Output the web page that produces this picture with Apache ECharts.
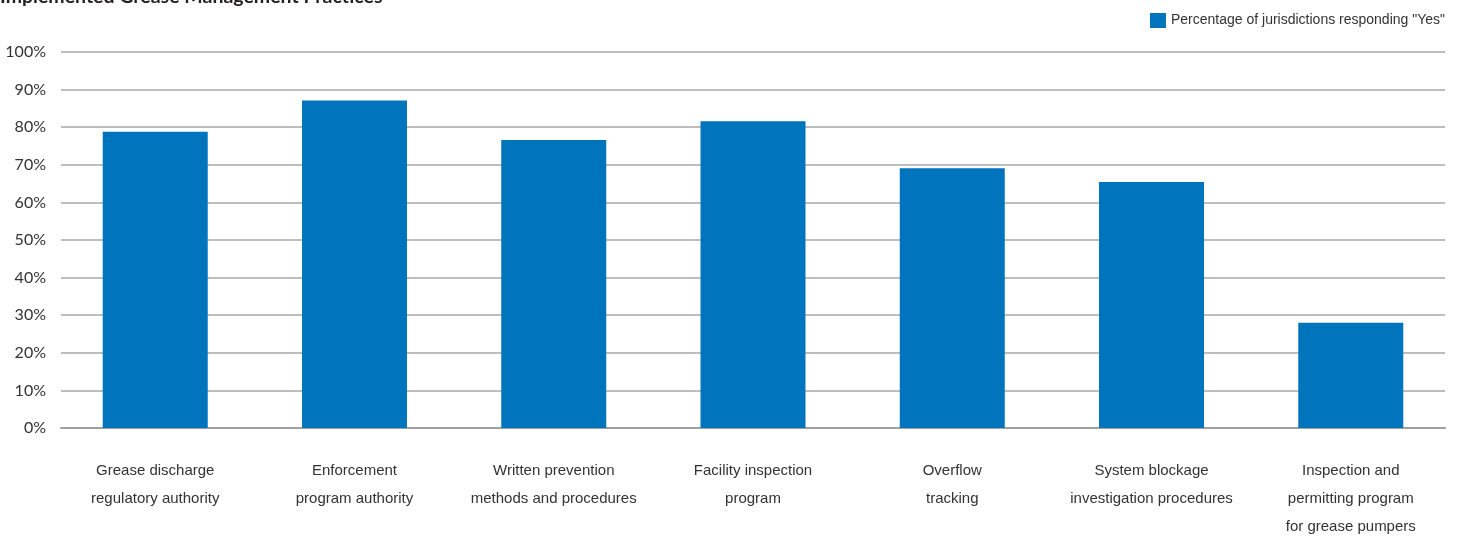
<!DOCTYPE html>
<html>
<head>
<meta charset="utf-8">
<script src="https://cdn.jsdelivr.net/npm/echarts@6/dist/echarts.min.js"></script>
<style>
  html, body { margin: 0; padding: 0; background: #fff; }
  #chart { width: 1460px; height: 540px; }
</style>
</head>
<body>
<div id="chart"></div>
<script>
// data
const categories = [
  'Grease discharge\nregulatory authority',
  'Enforcement\nprogram authority',
  'Written prevention\nmethods and procedures',
  'Facility inspection\nprogram',
  'Overflow\ntracking',
  'System blockage\ninvestigation procedures',
  'Inspection and\npermitting program\nfor grease pumpers'
];
const yesPercent = [78.8, 87.1, 76.6, 81.6, 69.1, 65.4, 28.0];
const seriesName = 'Percentage of jurisdictions responding "Yes"';
const titleText = 'Implemented Grease Management Practices';

const BLUE = '#0075BE';
const narrow = '"Liberation Sans Narrow", "Liberation Sans", sans-serif';

const chart = echarts.init(document.getElementById('chart'));

chart.setOption({
  animation: false,
  title: {
    text: titleText,
    left: 0,
    top: -13,
    padding: 0,
    textStyle: { fontFamily: 'Lato, sans-serif', fontSize: 19.5, fontWeight: 'bold', color: '#231f20' }
  },
  legend: {
    right: 15,
    top: 13,
    padding: 0,
    icon: 'rect',
    itemWidth: 16,
    itemHeight: 15,
    itemGap: 10,
    data: [seriesName],
    textStyle: { fontFamily: narrow, fontSize: 14, color: '#333' }
  },
  // grid 0 : gridlines + axis line, grid 1 : bars (slightly wider so outer gaps match)
  grid: [
    { left: 61, right: 15, top: 52, bottom: 112, outerBoundsMode: 'none' },
    { left: 55.6, right: 9.6, top: 52, bottom: 112, outerBoundsMode: 'none' }
  ],
  xAxis: [
    {
      gridIndex: 0,
      type: 'value',
      min: 0,
      max: 1,
      axisLine: { show: true, onZero: false, lineStyle: { color: '#a0a0a0', width: 2 } },
      axisTick: { show: false },
      axisLabel: { show: false },
      splitLine: { show: false }
    },
    {
      gridIndex: 1,
      type: 'category',
      data: categories,
      axisLine: { show: false },
      axisTick: { show: false },
      axisLabel: {
        margin: 29,
        interval: 0,
        fontFamily: narrow,
        fontSize: 15,
        lineHeight: 28,
        color: '#333'
      }
    }
  ],
  yAxis: [
    {
      gridIndex: 0,
      type: 'value',
      min: 0,
      max: 100,
      interval: 10,
      axisLine: { show: false },
      axisTick: { show: false },
      axisLabel: {
        formatter: '{value}%',
        margin: 15,
        fontFamily: 'Lato, sans-serif',
        fontSize: 16,
        color: '#333'
      },
      splitLine: { show: true, lineStyle: { color: '#a8a8a8', width: 1.5 } }
    },
    {
      gridIndex: 1,
      type: 'value',
      min: 0,
      max: 100,
      show: false,
      splitLine: { show: false }
    }
  ],
  series: [
    {
      name: seriesName,
      type: 'bar',
      xAxisIndex: 1,
      yAxisIndex: 1,
      data: yesPercent,
      barWidth: 105,
      itemStyle: { color: BLUE }
    }
  ]
});
</script>
</body>
</html>
